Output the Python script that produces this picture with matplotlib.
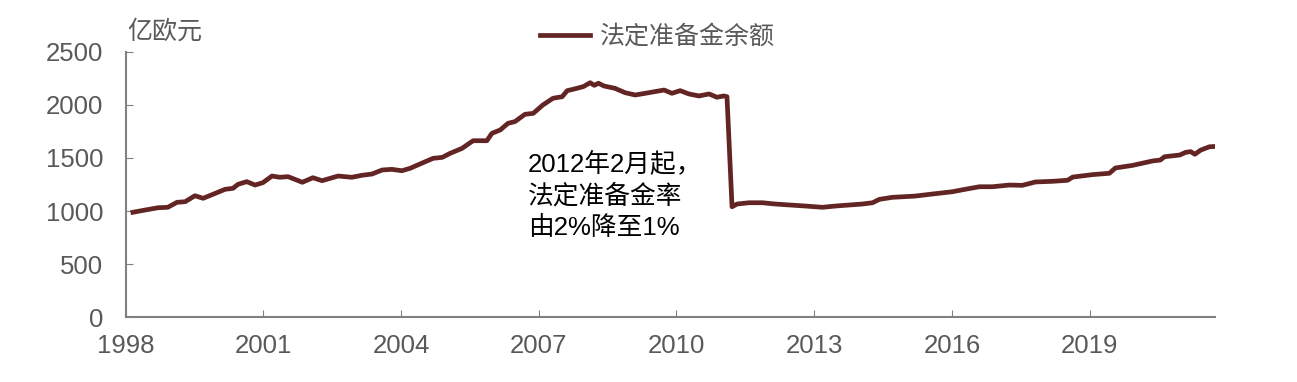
import matplotlib.pyplot as plt

plt.rcParams['font.family'] = ['Liberation Sans', 'Noto Sans CJK SC', 'DejaVu Sans']

# time (fractional year) and reserve balance
years = [1998.16, 1998.42, 1998.71, 1998.92, 1999.12, 1999.30, 1999.51, 1999.69, 1999.90,
         2000.17, 2000.34, 2000.45, 2000.64, 2000.82, 2000.99, 2001.19, 2001.36, 2001.54,
         2001.85, 2002.08, 2002.28, 2002.63, 2002.93, 2003.15, 2003.37, 2003.59, 2003.80,
         2004.02, 2004.20, 2004.41, 2004.70, 2004.90, 2005.07, 2005.33, 2005.57, 2005.87,
         2005.98, 2006.16, 2006.33, 2006.48, 2006.70, 2006.88, 2007.09, 2007.31, 2007.51,
         2007.62, 2007.75, 2007.97, 2008.12, 2008.21, 2008.30, 2008.42, 2008.66, 2008.88,
         2009.10, 2009.32, 2009.53, 2009.73, 2009.90, 2010.08, 2010.27, 2010.49, 2010.71,
         2010.88, 2011.03, 2011.10, 2011.21, 2011.32, 2011.58, 2011.87, 2012.15, 2012.46,
         2012.81, 2013.18, 2013.46, 2013.77, 2014.05, 2014.27, 2014.42, 2014.70, 2015.20,
         2015.57, 2016.01, 2016.29, 2016.60, 2016.88, 2017.25, 2017.53, 2017.82, 2018.19,
         2018.52, 2018.63, 2019.06, 2019.43, 2019.56, 2019.93, 2020.37, 2020.54, 2020.63,
         2020.96, 2021.09, 2021.20, 2021.29, 2021.42, 2021.61, 2021.78]
reserves = [988, 1009, 1031, 1035, 1082, 1088, 1144, 1120, 1157,
            1205, 1214, 1252, 1277, 1245, 1267, 1330, 1318, 1324,
            1271, 1314, 1286, 1330, 1318, 1337, 1349, 1387, 1393,
            1380, 1403, 1443, 1497, 1506, 1544, 1591, 1663, 1663,
            1733, 1764, 1827, 1843, 1912, 1921, 2000, 2063, 2078,
            2135, 2148, 2173, 2210, 2185, 2205, 2179, 2157, 2116,
            2094, 2110, 2126, 2141, 2110, 2135, 2104, 2085, 2104,
            2073, 2085, 2078, 1040, 1066, 1078, 1078, 1066, 1057,
            1047, 1035, 1047, 1057, 1066, 1078, 1110, 1129, 1141,
            1160, 1182, 1205, 1229, 1229, 1245, 1242, 1274, 1280,
            1290, 1320, 1343, 1356, 1406, 1430, 1472, 1481, 1512,
            1528, 1553, 1560, 1535, 1575, 1606, 1610]

xticks = [1998, 2001, 2004, 2007, 2010, 2013, 2016, 2019]
yticks = [0, 500, 1000, 1500, 2000, 2500]

grey = '#595959'
line_col = '#632523'

fig = plt.figure(figsize=(12.97, 3.82), dpi=100)
ax = fig.add_axes([0.0968, 0.170, 0.840, 0.694])

ax.plot(years, reserves, color=line_col, linewidth=3.4, label='法定准备金余额')

ax.set_xlim(1998, 2021.73)
ax.set_ylim(0, 2500)
ax.set_xticks(xticks)
ax.set_yticks(yticks)
ax.tick_params(direction='in', length=5, color='#808080', labelsize=18.5,
               labelcolor=grey)
ax.tick_params(axis='y', pad=16)
ax.tick_params(axis='x', pad=12)
for s in ['top', 'right']:
    ax.spines[s].set_visible(False)
for s in ['left', 'bottom']:
    ax.spines[s].set_color('#808080')
    ax.spines[s].set_linewidth(1.5)

fig.text(0.098, 0.918, '亿欧元', fontsize=18, color=grey, va='center')

ax.text(0.369, 0.457, '2012年2月起，\n法定准备金率\n由2%降至1%', transform=ax.transAxes,
        fontsize=18.5, color='black', linespacing=1.4, va='center', ha='left')

ax.legend(loc='center', bbox_to_anchor=(0.488, 1.056), frameon=False,
          fontsize=18, labelcolor=grey, handlelength=2.0, handletextpad=0.4)

fig.savefig('out.png', dpi=100)
